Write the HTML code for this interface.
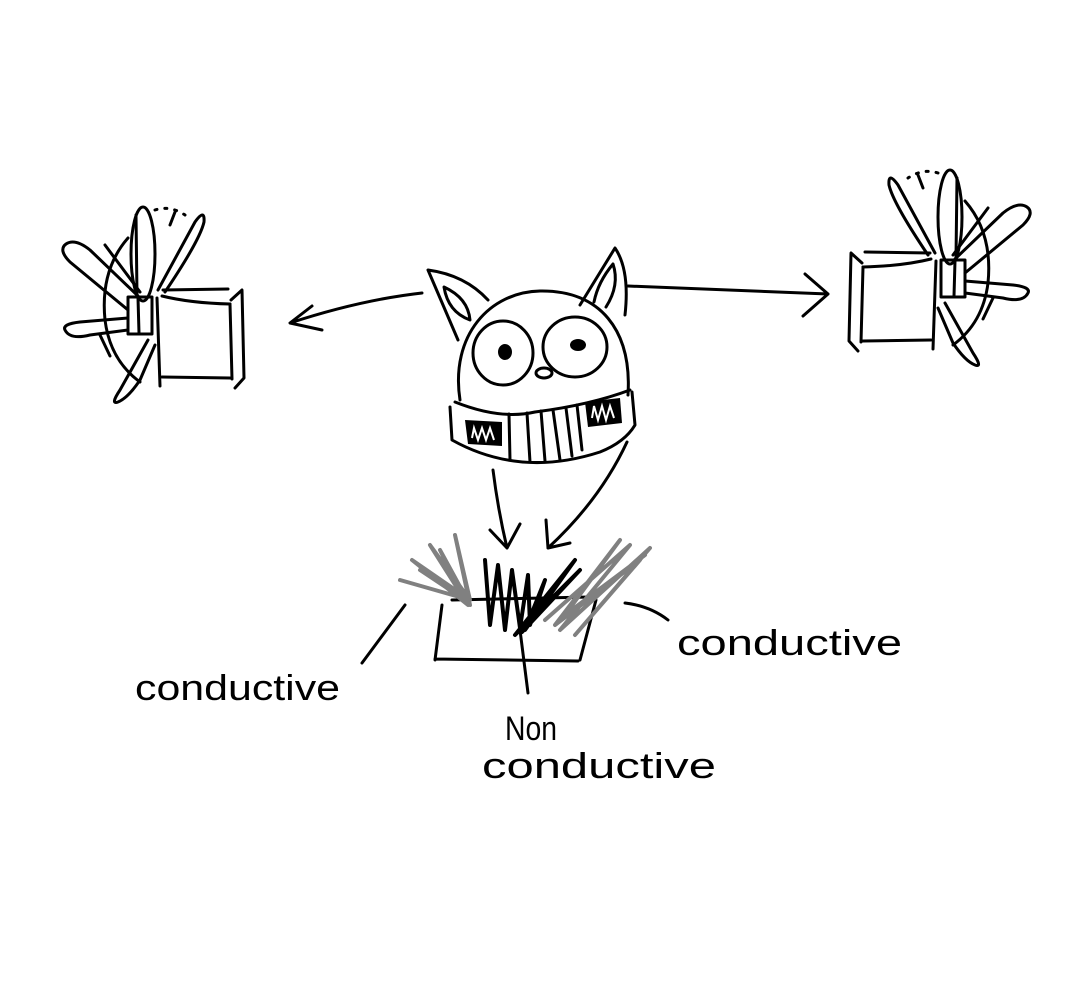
<!DOCTYPE html>
<html><head><meta charset="utf-8"><style>
html,body{margin:0;padding:0;background:#fff;}
svg{display:block;}
text{font-family:"Liberation Sans",sans-serif;fill:#000;}
</style></head><body>
<svg width="1083" height="986" viewBox="0 0 1083 986" xmlns="http://www.w3.org/2000/svg">
<defs>
<g id="fan" fill="none" stroke="#000" stroke-width="3" stroke-linecap="round" stroke-linejoin="round">
  <path d="M163,290 L228,289 M157,298 L160,386 M162,377 L230,378 M230,304 L232,379 M231,300 L242,290 L244,378 L235,388"/>
  <path d="M162,296 Q190,303 230,304"/>
  <rect x="128" y="297" width="24" height="37"/>
  <line x1="138" y1="298" x2="139" y2="333"/>
  <ellipse cx="143" cy="254" rx="12" ry="47"/>
  <line x1="136" y1="215" x2="137" y2="295"/>
  <path d="M128,310 L70,262 Q58,250 66,244 Q75,238 90,250 L138,296"/>
  <path d="M128,318 L80,322 Q62,324 65,330 Q70,340 90,335 L128,330"/>
  <path d="M148,340 L120,390 Q110,405 118,402 Q128,398 140,380 L155,345"/>
  <path d="M158,290 L195,222 Q205,208 204,222 Q200,240 165,292"/>
  <path d="M128,238 Q100,270 105,320 Q110,360 140,382"/>
  <path d="M100,335 L110,356 M175,212 L170,225 M140,292 L105,245"/>
  <path d="M155,210 Q170,205 185,215" stroke-dasharray="2 8"/>
</g>
</defs>
<use href="#fan"/>
<use href="#fan" transform="translate(1093,-37) scale(-1,1)"/>

<g fill="none" stroke="#000" stroke-width="3" stroke-linecap="round" stroke-linejoin="round">
  <path d="M460,400 C450,335 490,292 540,291 C600,290 632,330 628,395"/>
  <path d="M458,340 L428,270 Q465,275 488,300"/>
  <path d="M444,287 Q448,312 470,320 Q468,298 444,287 Z"/>
  <path d="M580,305 L615,248 Q630,270 625,315"/>
  <path d="M594,302 Q598,282 613,264 Q620,285 606,307"/>
  <ellipse cx="503" cy="353" rx="30" ry="32"/>
  <ellipse cx="575" cy="347" rx="32" ry="30"/>
  <ellipse cx="544" cy="373" rx="8" ry="5"/>
  <path d="M455,402 Q500,420 535,412 Q590,405 630,390"/>
  <path d="M450,407 L452,440 Q520,478 600,452 Q625,442 635,425 L632,392"/>
  <path d="M509,414 L510,460 M527,413 L530,462 M541,411 L545,461 M553,410 L560,460 M566,408 L572,456 M577,405 L582,450"/>
  <path d="M422,293 Q360,300 290,323 M312,306 L290,323 L322,330"/>
  <path d="M628,286 Q720,290 828,294 M805,274 L828,294 L803,316"/>
  <path d="M493,470 Q498,510 507,548 M490,530 L507,548 L520,524"/>
  <path d="M627,442 Q600,500 548,548 M546,520 L548,548 L570,543"/>
  <path d="M452,600 L590,597 M442,605 L435,660 M435,659 L578,661 M596,600 L580,660"/>
  <path d="M405,605 L362,663 M625,603 Q650,606 668,620 M520,630 L528,693"/>
</g>
<g fill="#000">
  <path d="M465,420 L502,422 L502,446 L468,444 Z"/>
  <path d="M585,402 L620,398 L622,423 L588,427 Z"/>
  <ellipse cx="505" cy="352" rx="7" ry="8"/>
  <ellipse cx="578" cy="345" rx="8" ry="6"/>
</g>
<g fill="none" stroke="#fff" stroke-width="2">
  <path d="M472,438 L474,428 L478,440 L482,428 L486,440 L490,428 L494,440"/>
  <path d="M592,418 L594,406 L598,420 L602,406 L606,420 L610,406 L614,418"/>
</g>
<g fill="none" stroke="#808080" stroke-width="4" stroke-linecap="round" stroke-linejoin="round">
  <path d="M400,580 L470,600 L412,560 L468,605 L430,545 L470,600 L455,535 L470,605 L440,550 L462,595 L420,570 L465,600"/>
  <path d="M545,620 L630,545 L560,630 L650,548 L575,635 L640,560 L555,625 L620,540 L565,615 L645,555"/>
</g>
<g fill="none" stroke="#000" stroke-width="4" stroke-linecap="round" stroke-linejoin="round">
  <path d="M485,560 L490,625 L498,565 L505,630 L512,570 L520,628 L528,575 L530,625 L545,580 L525,630 L575,560 L515,635 L580,570 L522,632 L540,600"/>
</g>
<text x="135" y="700" font-size="36" textLength="205" lengthAdjust="spacingAndGlyphs">conductive</text>
<text x="677" y="655" font-size="36" textLength="225" lengthAdjust="spacingAndGlyphs">conductive</text>
<text x="505" y="740" font-size="34" textLength="52" lengthAdjust="spacingAndGlyphs">Non</text>
<text x="482" y="778" font-size="36" textLength="234" lengthAdjust="spacingAndGlyphs">conductive</text>
</svg>
</body></html>
